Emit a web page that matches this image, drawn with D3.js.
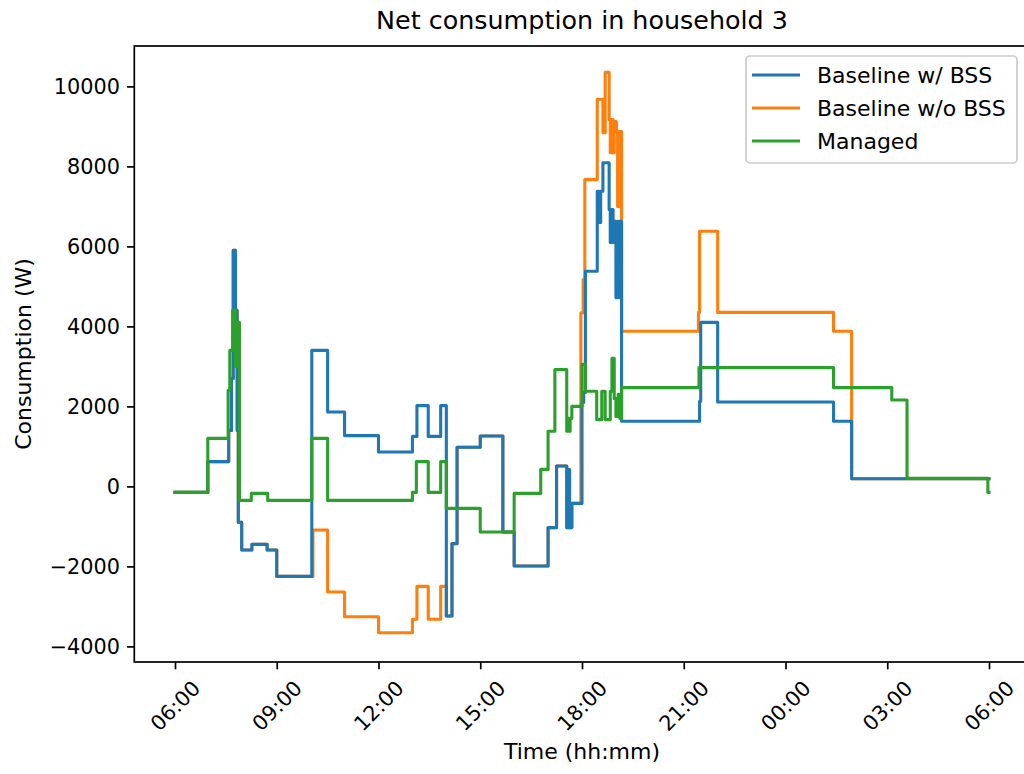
<!DOCTYPE html>
<html>
<head>
<meta charset="utf-8">
<script src="https://cdn.jsdelivr.net/npm/d3@7"></script>
<style>
  body { margin: 0; background: #fff; }
  svg { display: block; }
  text { font-family: "DejaVu Sans", sans-serif; fill: #000; }
</style>
</head>
<body>
<svg id="chart" width="1024" height="774"></svg>
<script>
// ---- Data ---------------------------------------------------------------
const chartTitle = "Net consumption in household 3";
const xLabel = "Time (hh:mm)";
const yLabel = "Consumption (W)";
const seriesNames = ["Baseline w/ BSS", "Baseline w/o BSS", "Managed"];
const seriesColors = ["#1f77b4", "#ff7f0e", "#2ca02c"];
const xTickLabels = ["06:00", "09:00", "12:00", "15:00", "18:00", "21:00", "00:00", "03:00", "06:00"];
const yTickValues = [-4000, -2000, 0, 2000, 4000, 6000, 8000, 10000];

// Baseline with battery storage system (step changes: time -> watts)
const bssTimes = ["06:00","06:58","07:35","07:40","07:43","07:47","07:50","07:52","07:58","08:16",
  "08:43","09:00","10:02","10:30","11:00","12:00","13:00","13:08","13:28","13:50",
  "14:00","14:10","14:19","15:00","15:40","16:00","17:00","17:15","17:33","17:36",
  "17:38","17:42","18:00","18:03","18:06","18:27","18:30","18:33","18:37","18:48",
  "18:50","18:52","18:55","18:57","19:00","19:03","19:06","19:08","19:10","21:28",
  "21:30","22:00","01:25","01:57","06:00"];
const bssValues = [-150, 620, 1400, 2700, 5900, 4400, 1400, -900, -1590, -1450,
  -1590, -2250, 3400, 1860, 1270, 860, 1250, 2020, 1250, 2020,
  -3240, -1430, 980, 1260, -1140, -1990, -1030, 510, -1030, 420,
  -1030, -425, 2100, 2350, 5380, 7380, 6600, 7380, 8090, 6920,
  6100, 6920, 6100, 6630, 4720, 6630, 4720, 6630, 1630, 2130,
  4100, 2110, 1630, 190, 190];

// Baseline without battery storage system
const noBssTimes = ["06:00","06:58","07:35","07:40","07:43","07:47","07:50","07:52","07:58","08:16",
  "08:43","09:00","10:04","10:30","11:00","12:00","13:00","13:08","13:28","13:50",
  "14:00","14:10","14:19","15:00","15:40","16:00","17:00","17:15","17:33","17:36",
  "17:38","17:42","17:58","18:02","18:05","18:27","18:37","18:41","18:48","18:50",
  "18:52","18:55","18:57","19:01","19:03","19:05","19:07","19:08","19:10","21:26",
  "21:28","22:00","01:25","01:57","06:00"];
const noBssValues = [-150, 620, 1400, 2700, 5900, 4400, 1400, -900, -1590, -1450,
  -1590, -2250, -1090, -2640, -3260, -3660, -3320, -2500, -3320, -2500,
  -3240, -1430, 980, 1260, -1140, -1990, -1030, 510, -1030, 420,
  -1030, -425, 4340, 5170, 7670, 9680, 8840, 10350, 9170, 8340,
  9170, 8340, 9120, 8870, 7000, 8870, 7000, 8870, 3880, 4350,
  6380, 4350, 3880, 190, 190];

// Managed consumption
const managedTimes = ["06:00","06:58","07:34","07:37","07:42","07:47","07:50","07:54","08:15","08:44",
  "10:02","10:30","13:00","13:07","13:28","13:50","14:00","15:00","16:00","16:47",
  "17:00","17:12","17:33","17:35","17:37","17:39","17:42","18:00","18:06","18:26",
  "18:35","18:41","18:50","18:53","18:57","19:00","19:04","19:07","19:10","21:27",
  "01:25","03:08","03:35","05:58","06:00"];
const managedValues = [-150, 1200, 2400, 3400, 4400, 3000, 4100, -350, -175, -350,
  1200, -350, -150, 620, -150, 620, -550, -1140, -175, 425,
  1380, 2920, 1380, 1700, 1380, 1700, 2000, 3050, 2380, 1670,
  2380, 1670, 2380, 3200, 2200, 1750, 2300, 1700, 2470, 2970,
  2470, 2160, 200, -150, -150];

// ---- Helpers ------------------------------------------------------------
// Clock strings run across midnight: whenever a time does not advance, roll to the next day.
function toDates(times) {
  let day = 0, prev = -1;
  return times.map(s => {
    const [h, m] = s.split(":").map(Number);
    let mins = h * 60 + m;
    if (mins <= prev) { day += 1; }
    prev = mins;
    return new Date(2023, 0, 1 + day, h, m);
  });
}
function zipSeries(times, values) {
  const dates = toDates(times);
  return dates.map((t, i) => ({ t, v: values[i] }));
}
const fmtY = d => d < 0 ? "\u2212" + Math.abs(d) : String(d);

// ---- Layout -------------------------------------------------------------
const svg = d3.select("#chart");
const plot = { left: 134.3, right: 1029.7, top: 46, bottom: 662 };
const tickFont = 20.8;
const labelFont = 22;

const xTickDates = toDates(xTickLabels);
const t0 = xTickDates[0], t1 = xTickDates[xTickDates.length - 1];
const pad = (t1 - t0) * 0.05;
const x = d3.scaleTime()
  .domain([new Date(+t0 - pad), new Date(+t1 + pad)])
  .range([plot.left, plot.right]);
const y = d3.scaleLinear()
  .domain([-4390, 11010])
  .range([plot.bottom, plot.top]);

// ---- Lines --------------------------------------------------------------
const series = [
  { name: seriesNames[1], color: seriesColors[1], data: zipSeries(noBssTimes, noBssValues) },
  { name: seriesNames[0], color: seriesColors[0], data: zipSeries(bssTimes, bssValues) },
  { name: seriesNames[2], color: seriesColors[2], data: zipSeries(managedTimes, managedValues) }
];
const line = d3.line().curve(d3.curveStepAfter).x(d => x(d.t)).y(d => y(d.v));

svg.append("g").selectAll("path").data(series).join("path")
  .attr("d", d => line(d.data))
  .attr("fill", "none")
  .attr("stroke", d => d.color)
  .attr("stroke-width", 3.1)
  .attr("stroke-linejoin", "round")
  .attr("stroke-linecap", "square");

// ---- Axes ---------------------------------------------------------------
const yAxis = svg.append("g")
  .attr("transform", `translate(${plot.left},0)`)
  .call(d3.axisLeft(y).tickValues(yTickValues).tickFormat(fmtY).tickSize(7.3).tickPadding(7));
yAxis.select(".domain").remove();
yAxis.selectAll(".tick line").attr("stroke", "#000").attr("stroke-width", 1.7);
yAxis.selectAll(".tick text").attr("font-size", tickFont).attr("font-family", "DejaVu Sans");

const xAxis = svg.append("g")
  .attr("transform", `translate(0,${plot.bottom})`)
  .call(d3.axisBottom(x).tickValues(xTickDates).tickFormat((d, i) => xTickLabels[i]).tickSize(7.3).tickPadding(7));
xAxis.select(".domain").remove();
xAxis.selectAll(".tick line").attr("stroke", "#000").attr("stroke-width", 1.7);
xAxis.selectAll(".tick text")
  .attr("font-size", tickFont)
  .attr("font-family", "DejaVu Sans")
  .attr("text-anchor", "middle")
  .attr("dy", null)
  .attr("y", 0)
  .attr("dominant-baseline", "central")
  .attr("transform", "translate(0,44) rotate(-45)");

// Frame
svg.append("rect")
  .attr("x", plot.left).attr("y", plot.top)
  .attr("width", plot.right - plot.left).attr("height", plot.bottom - plot.top)
  .attr("fill", "none").attr("stroke", "#000").attr("stroke-width", 1.7);

// ---- Titles -------------------------------------------------------------
const cx = (plot.left + plot.right) / 2;
svg.append("text").attr("x", cx).attr("y", 29).attr("text-anchor", "middle")
  .attr("font-size", 25.4).text(chartTitle);
svg.append("text").attr("x", cx).attr("y", 759).attr("text-anchor", "middle")
  .attr("font-size", labelFont).text(xLabel);
svg.append("text").attr("transform", `translate(31,${(plot.top + plot.bottom) / 2}) rotate(-90)`)
  .attr("text-anchor", "middle").attr("font-size", labelFont).text(yLabel);

// ---- Legend -------------------------------------------------------------
const legendOrder = [1, 0, 2];
const lg = svg.append("g");
lg.append("rect")
  .attr("x", 746).attr("y", 56).attr("width", 271).attr("height", 107)
  .attr("rx", 4).attr("fill", "#fff").attr("fill-opacity", 0.8)
  .attr("stroke", "#ccc").attr("stroke-width", 1.7);
legendOrder.forEach((si, i) => {
  const s = series[si];
  const yy = 75 + i * 33;
  lg.append("line").attr("x1", 752).attr("x2", 800).attr("y1", yy).attr("y2", yy)
    .attr("stroke", s.color).attr("stroke-width", 3.1);
  lg.append("text").attr("x", 817).attr("y", yy).attr("dy", "0.36em")
    .attr("font-size", labelFont).text(s.name);
});
</script>
</body>
</html>
